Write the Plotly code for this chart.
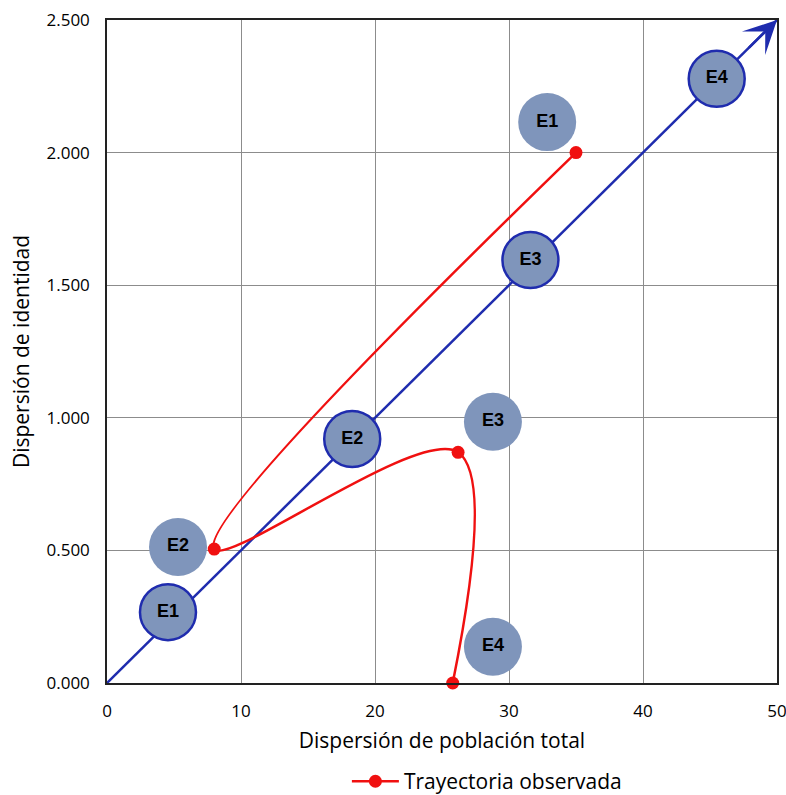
import plotly.graph_objects as go

# Observed trajectory (red)
traj_x = [35.0, 8.0, 26.2, 25.8]
traj_y = [2.0, 0.505, 0.87, 0.0]

# Expected stages on the diagonal (outlined)
diag_labels = ["E1", "E2", "E3", "E4"]
diag_x = [4.55, 18.3, 31.6, 45.5]
diag_y = [0.267, 0.92, 1.595, 2.278]

# Observed stages (grey, no outline)
obs_labels = ["E1", "E2", "E3", "E4"]
obs_x = [32.85, 5.3, 28.8, 28.8]
obs_y = [2.115, 0.513, 0.985, 0.137]

# Diagonal reference line
line_x = [0, 50]
line_y = [0, 2.5]
arrow_tail = [47.8, 2.39]

x_ticks = [0, 10, 20, 30, 40, 50]
y_ticks = [0, 0.5, 1.0, 1.5, 2.0, 2.5]
y_tick_text = ["0.000", "0.500", "1.000", "1.500", "2.000", "2.500"]

BLUE = "#1f2cae"
FILL = "#7f95bb"
RED = "#f01010"
FONT = "Open Sans"

fig = go.Figure()

fig.add_trace(go.Scatter(x=line_x, y=line_y, mode="lines",
                         line=dict(color=BLUE, width=2.5),
                         showlegend=False, hoverinfo="skip", cliponaxis=False))

fig.add_trace(go.Scatter(x=obs_x, y=obs_y, mode="markers+text", text=obs_labels,
                         textposition="middle center",
                         textfont=dict(family="Liberation Sans", size=18, color="black", weight="bold"),
                         marker=dict(size=58, color=FILL, line=dict(width=0)),
                         showlegend=False, cliponaxis=False))

fig.add_trace(go.Scatter(x=traj_x, y=traj_y, mode="lines+markers",
                         name="Trayectoria observada",
                         line=dict(color=RED, width=2.5, shape="spline", smoothing=1.0),
                         marker=dict(size=13, color=RED),
                         cliponaxis=False))

fig.add_trace(go.Scatter(x=diag_x, y=diag_y, mode="markers+text", text=diag_labels,
                         textposition="middle center",
                         textfont=dict(family="Liberation Sans", size=18, color="black", weight="bold"),
                         marker=dict(size=56, color=FILL, line=dict(width=2.5, color=BLUE)),
                         showlegend=False, cliponaxis=False))

fig.add_annotation(x=line_x[1], y=line_y[1], ax=arrow_tail[0], ay=arrow_tail[1],
                   xref="x", yref="y", axref="x", ayref="y", text="",
                   showarrow=True, arrowhead=3, arrowsize=2.2, arrowwidth=2.5,
                   arrowcolor=BLUE, standoff=0)

axis_common = dict(showgrid=True, gridcolor="#8c8c8c", gridwidth=1,
                   showline=True, linecolor="#222", linewidth=1.5, mirror=True,
                   zeroline=False, ticks="", automargin=False,
                   ticklabelstandoff=12, ticklabeloverflow="allow",
                   tickfont=dict(family=FONT, size=17, color="black"))

fig.update_xaxes(range=[0, 50], tickvals=x_ticks,
                 title=dict(text="Dispersión de población total",
                            font=dict(family=FONT, size=21, color="black"), standoff=12),
                 **axis_common)
fig.update_yaxes(range=[0, 2.5], tickvals=y_ticks, ticktext=y_tick_text,
                 title=dict(text="Dispersión de identidad",
                            font=dict(family=FONT, size=21, color="black"), standoff=11),
                 **axis_common)

fig.update_layout(width=786, height=810,
                  margin=dict(l=107, r=9, t=20, b=126),
                  plot_bgcolor="white", paper_bgcolor="white",
                  showlegend=True,
                  legend=dict(orientation="h", x=0.567, xanchor="center", y=-0.147, yanchor="middle",
                              font=dict(family=FONT, size=21, color="black"), itemwidth=47))

fig.write_html("out.html", config={"displayModeBar": False},
               post_script="document.body.style.margin='0';document.body.style.overflow='hidden';")
